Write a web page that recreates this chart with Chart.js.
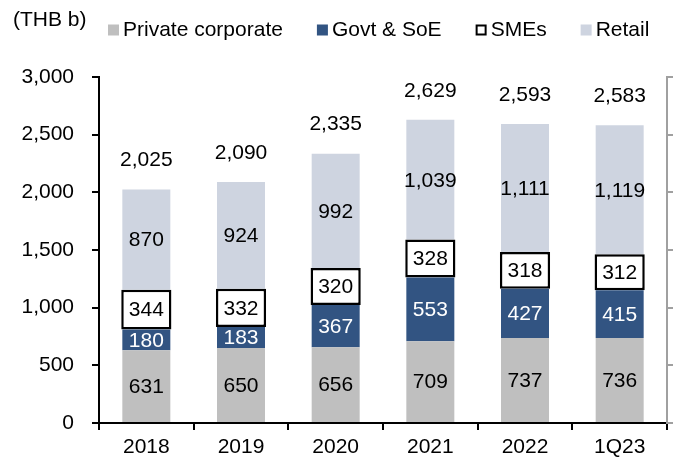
<!DOCTYPE html>
<html>
<head>
<meta charset="utf-8">
<script src="https://cdn.jsdelivr.net/npm/chart.js@4"></script>
<style>
  html, body { margin: 0; padding: 0; background: #fff; }
  canvas { display: block; }
</style>
</head>
<body>
<canvas id="chart" width="681" height="461"></canvas>
<script>
// loan book by segment (THB b)
const categories = ['2018', '2019', '2020', '2021', '2022', '1Q23'];
const privateCorp = [631, 650, 656, 709, 737, 736];
const govtSoe = [180, 183, 367, 553, 427, 415];
const smes = [344, 332, 320, 328, 318, 312];
const retail = [870, 924, 992, 1039, 1111, 1119];
const totals = [2025, 2090, 2335, 2629, 2593, 2583];
const yTicks = [0, 500, 1000, 1500, 2000, 2500, 3000];

const FAMILY = '"Liberation Sans", Arial, sans-serif';
const FONT_SIZE = 21;

function fmt(v) {
  return v.toLocaleString('en-US');
}

// numbers inside the segments and totals above
const valueLabels = {
  id: 'valueLabels',
  afterDatasetsDraw(chart) {
    const ctx = chart.ctx;
    ctx.save();
    ctx.font = FONT_SIZE + 'px ' + FAMILY;
    ctx.textAlign = 'center';
    ctx.textBaseline = 'middle';
    chart.data.datasets.forEach((ds, i) => {
      const meta = chart.getDatasetMeta(i);
      meta.data.forEach((bar, j) => {
        ctx.fillStyle = ds.labelColor;
        ctx.fillText(fmt(ds.data[j]), bar.x, (bar.y + bar.base) / 2 + 1);
      });
    });
    const topMeta = chart.getDatasetMeta(chart.data.datasets.length - 1);
    topMeta.data.forEach((bar, j) => {
      ctx.fillStyle = '#000';
      ctx.fillText(fmt(totals[j]), bar.x, bar.y - 29);
    });
    ctx.restore();
  }
};

// unit label and legend row at the top
const topLegend = {
  id: 'topLegend',
  afterDraw(chart) {
    const ctx = chart.ctx;
    ctx.save();
    ctx.font = FONT_SIZE + 'px ' + FAMILY;
    ctx.textBaseline = 'middle';
    ctx.textAlign = 'left';
    ctx.fillStyle = '#000';
    ctx.fillText('(THB b)', 13, 20);

    let x = 108;
    const y = 30;
    chart.data.datasets.forEach(ds => {
      const bw = ds.borderWidth || 0;
      ctx.fillStyle = ds.backgroundColor;
      ctx.fillRect(x, y - 5.5, 11, 11);
      if (bw) {
        ctx.lineWidth = 2;
        ctx.strokeStyle = ds.borderColor;
        ctx.strokeRect(x + 1, y - 4.5, 9, 9);
      }
      ctx.fillStyle = '#000';
      ctx.fillText(ds.label, x + 15, y);
      x += 15 + ctx.measureText(ds.label).width + 34;
    });
    ctx.restore();
  }
};

new Chart(document.getElementById('chart'), {
  type: 'bar',
  data: {
    labels: categories,
    datasets: [
      { label: 'Private corporate', data: privateCorp, backgroundColor: '#bfbfbf', borderWidth: 0, labelColor: '#000' },
      { label: 'Govt & SoE', data: govtSoe, backgroundColor: '#325482', borderWidth: 0, labelColor: '#fff' },
      // slightly wider so the outline sits over the bar edge
      { label: 'SMEs', data: smes, backgroundColor: '#ffffff', borderColor: '#000', borderWidth: 2.5, borderSkipped: false, barPercentage: 0.53, labelColor: '#000' },
      { label: 'Retail', data: retail, backgroundColor: '#ced4e0', borderWidth: 0, labelColor: '#000' }
    ]
  },
  options: {
    responsive: false,
    animation: false,
    devicePixelRatio: 1,
    layout: { padding: { top: 77, left: 0, right: 0, bottom: 0 } },
    datasets: { bar: { categoryPercentage: 1, barPercentage: 0.507 } },
    plugins: {
      legend: { display: false },
      tooltip: { enabled: false }
    },
    scales: {
      x: {
        stacked: true,
        grid: { drawOnChartArea: false, drawTicks: true, tickLength: 7, color: '#000', lineWidth: 2, offset: true },
        border: { display: true, color: '#000', width: 2 },
        ticks: { color: '#000', font: { family: FAMILY, size: FONT_SIZE }, padding: 5 },
        afterFit(scale) { scale.height = 38; }
      },
      y: {
        stacked: true,
        min: 0,
        max: 3000,
        afterBuildTicks(scale) { scale.ticks = yTicks.map(v => ({ value: v })); },
        grid: { drawOnChartArea: false, tickLength: 7, color: '#000', lineWidth: 2 },
        border: { color: '#000', width: 2 },
        ticks: { color: '#000', font: { family: FAMILY, size: FONT_SIZE }, padding: 18, callback: v => fmt(v) },
        afterFit(scale) { scale.width = 99; }
      },
      y2: {
        position: 'right',
        min: 0,
        max: 3000,
        afterBuildTicks(scale) { scale.ticks = yTicks.map(v => ({ value: v })); },
        grid: { drawOnChartArea: false, tickLength: 6, color: '#a0a0a0', lineWidth: 2 },
        border: { color: '#a0a0a0', width: 2 },
        ticks: { display: false },
        afterFit(scale) { scale.width = 14; }
      }
    }
  },
  plugins: [valueLabels, topLegend]
});
</script>
</body>
</html>
